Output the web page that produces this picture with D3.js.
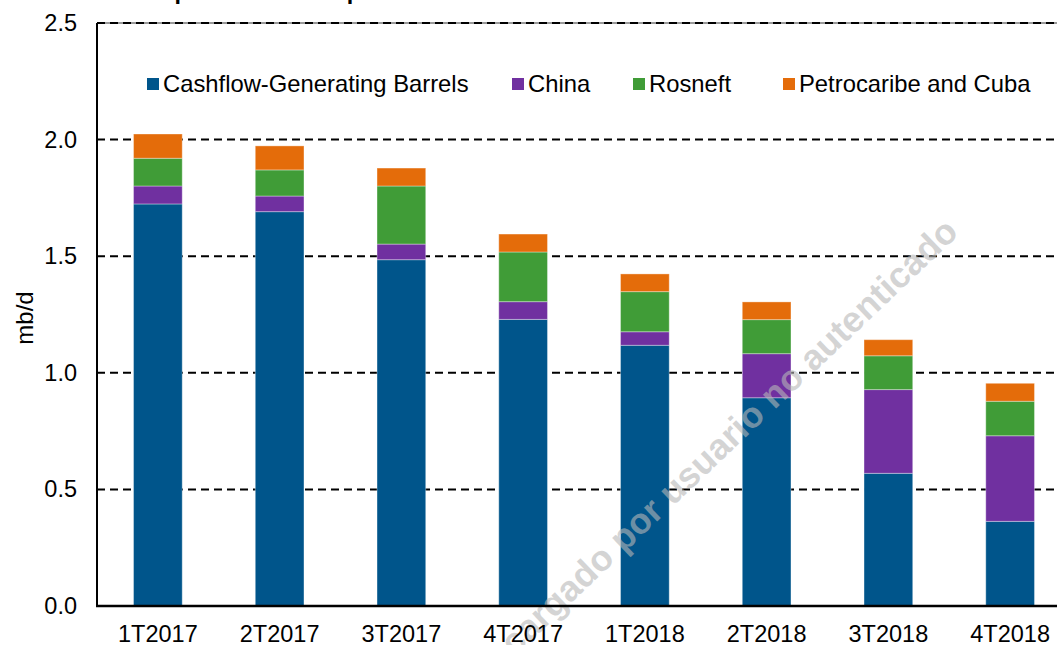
<!DOCTYPE html>
<html>
<head>
<meta charset="utf-8">
<script src="https://cdn.jsdelivr.net/npm/d3@7/dist/d3.min.js"></script>
<style>
  html, body { margin: 0; padding: 0; background: #fff; }
  svg { display: block; font-family: "Liberation Sans", Arial, sans-serif; }
</style>
</head>
<body>
<svg id="chart" width="1057" height="645"></svg>
<script>
// ---- data ----
const categories = ["1T2017", "2T2017", "3T2017", "4T2017", "1T2018", "2T2018", "3T2018", "4T2018"];
const seriesNames = ["Cashflow-Generating Barrels", "China", "Rosneft", "Petrocaribe and Cuba"];
const cashflow  = [1.724, 1.691, 1.485, 1.229, 1.118, 0.893, 0.569, 0.363];
const china     = [0.077, 0.067, 0.067, 0.076, 0.058, 0.189, 0.359, 0.367];
const rosneft   = [0.119, 0.112, 0.249, 0.213, 0.172, 0.146, 0.145, 0.148];
const petrocaribe = [0.104, 0.103, 0.077, 0.077, 0.076, 0.076, 0.069, 0.077];
const yTicks = [0, 0.5, 1.0, 1.5, 2.0, 2.5];
const yLabel = "mb/d";
const titleText = "Exportaciones de petróleo venezolano";
const watermarkText = "Descargado por usuario no autenticado";

// ---- styles ----
const colors = ["#00558B", "#7030A0", "#409C37", "#E46C0A"];
const fontSize = 23.5;

const svg = d3.select("#chart");
const margin = { left: 97, top: 23, bottom: 606, right: 1071 };

const x = d3.scaleBand().domain(categories).range([margin.left, margin.right])
  .paddingInner(0.6).paddingOuter(0.3);
const y = d3.scaleLinear().domain([0, 2.5]).range([margin.bottom, margin.top]);

// table for stack
const table = categories.map((c, i) => ({
  cat: c,
  [seriesNames[0]]: cashflow[i],
  [seriesNames[1]]: china[i],
  [seriesNames[2]]: rosneft[i],
  [seriesNames[3]]: petrocaribe[i]
}));
const stacked = d3.stack().keys(seriesNames)(table);

// title (cut off at top: only descenders show)
svg.append("text")
  .attr("x", 146).attr("y", -1.2)
  .attr("font-size", 23.3).attr("font-weight", "bold")
  .attr("fill", "#000")
  .text(titleText);

// gridlines
const grid = svg.append("g");
grid.append("line")
  .attr("x1", margin.left).attr("x2", margin.right)
  .attr("y1", y(2.5)).attr("y2", y(2.5))
  .attr("stroke", "#9a9a9a").attr("stroke-width", 2);
grid.selectAll("line.g").data(yTicks.filter(d => d > 0)).join("line")
  .attr("class", "g")
  .attr("x1", margin.left).attr("x2", margin.right)
  .attr("y1", d => y(d)).attr("y2", d => y(d))
  .attr("stroke", "#000").attr("stroke-width", 2)
  .attr("stroke-dasharray", "8,5");

// bars
svg.append("g").selectAll("g").data(stacked).join("g")
  .attr("fill", (d, i) => colors[i])
  .selectAll("rect").data(d => d).join("rect")
  .attr("x", d => x(d.data.cat))
  .attr("width", x.bandwidth())
  .attr("y", d => y(d[1]))
  .attr("height", d => y(d[0]) - y(d[1]))
  .attr("stroke", "#ffffff").attr("stroke-opacity", 0.35).attr("stroke-width", 1);

// watermark
svg.append("text")
  .attr("transform", "translate(960,234) rotate(-43.5)")
  .attr("text-anchor", "end")
  .attr("font-size", 36).attr("font-weight", "bold")
  .attr("fill", "#b8b8b8").attr("fill-opacity", 0.6)
  .text(watermarkText);

// axes
const yAxis = d3.axisLeft(y).tickValues(yTicks).tickFormat(d3.format(".1f")).tickSize(0).tickPadding(20);
const gy = svg.append("g").attr("transform", `translate(${margin.left},0)`).call(yAxis);
gy.select(".domain").remove();
gy.selectAll("text").attr("font-size", fontSize).attr("fill", "#000")
  .attr("font-family", "Liberation Sans, Arial, sans-serif");

const xAxis = d3.axisBottom(x).tickSize(0).tickPadding(19);
const gx = svg.append("g").attr("transform", `translate(0,${margin.bottom})`).call(xAxis);
gx.select(".domain").remove();
gx.selectAll("text").attr("font-size", fontSize).attr("fill", "#000")
  .attr("font-family", "Liberation Sans, Arial, sans-serif");

svg.append("line")
  .attr("x1", margin.left).attr("x2", margin.left)
  .attr("y1", y(2.5)).attr("y2", y(0))
  .attr("stroke", "#000").attr("stroke-width", 2);
svg.append("line")
  .attr("x1", margin.left - 1).attr("x2", margin.right)
  .attr("y1", y(0)).attr("y2", y(0))
  .attr("stroke", "#000").attr("stroke-width", 2.5);

// y label
svg.append("text")
  .attr("transform", "translate(33,318) rotate(-90)")
  .attr("text-anchor", "middle")
  .attr("font-size", 24).attr("fill", "#000")
  .text(yLabel);

// legend
const legendX = [147, 512, 633, 783];
const lg = svg.append("g").selectAll("g").data(seriesNames).join("g")
  .attr("transform", (d, i) => `translate(${legendX[i]},78)`);
lg.append("rect").attr("width", 12).attr("height", 12).attr("fill", (d, i) => colors[i]);
lg.append("text").attr("x", 16).attr("y", 14).attr("font-size", 23.8)
  .attr("fill", "#000").text(d => d);
</script>
</body>
</html>
